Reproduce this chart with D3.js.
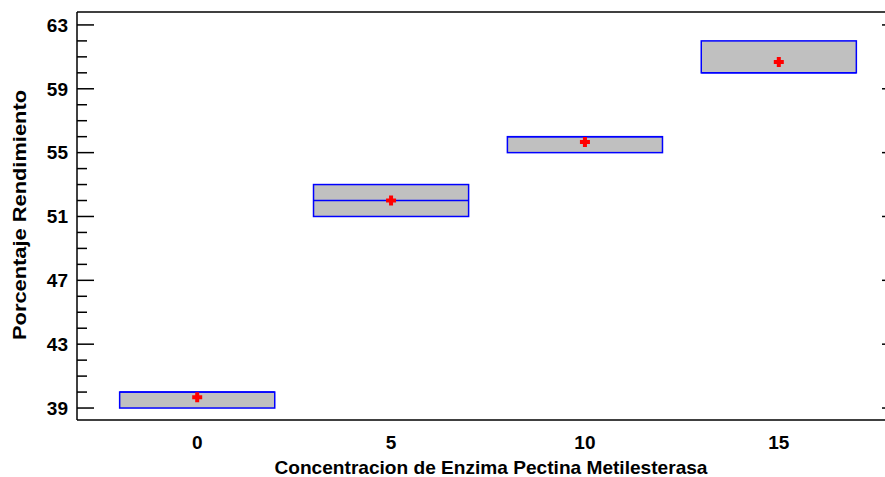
<!DOCTYPE html>
<html>
<head>
<meta charset="utf-8">
<script src="https://cdn.jsdelivr.net/npm/d3@7"></script>
<style>
  html, body { margin: 0; padding: 0; background: #fff; }
  svg { display: block; }
  text { font-family: "Liberation Sans", Arial, sans-serif; font-weight: bold; fill: #000; }
</style>
</head>
<body>
<svg id="chart" width="885" height="477"></svg>
<script>
// Data
const categories = [0, 5, 10, 15];
const q1Values     = [39, 51, 55, 60];
const medianValues = [40, 52, 56, 60];
const q3Values     = [40, 53, 56, 62];
const meanValues   = [39.67, 52, 55.67, 60.67];
const yTickLabels  = [39, 43, 47, 51, 55, 59, 63];
const xLabel = "Concentracion de Enzima Pectina Metilesterasa";
const yLabel = "Porcentaje Rendimiento";

const svg = d3.select("#chart");
const pLeft = 77, pRight = 899, pTop = 12, pBottom = 420;

const x = d3.scaleLinear().domain([-3.1, 18.1]).range([pLeft, pRight]);
const y = d3.scaleLinear().domain([38.25, 63.81]).range([pBottom, pTop]);

const minorTicks = d3.range(39, 64, 1);

// Left axis (ticks inward)
const gL = svg.append("g").attr("transform", `translate(${pLeft},0)`);
gL.selectAll("line").data(minorTicks).join("line")
  .attr("x1", 0).attr("x2", d => yTickLabels.includes(d) ? 17 : 10)
  .attr("y1", d => y(d)).attr("y2", d => y(d))
  .attr("stroke", "#000").attr("stroke-width", 1.5);
gL.selectAll("text").data(yTickLabels).join("text")
  .attr("x", -9).attr("y", d => y(d)).attr("dy", "0.36em")
  .attr("text-anchor", "end").attr("font-size", 19)
  .text(d => d);

// Right axis (ticks inward)
const gR = svg.append("g").attr("transform", `translate(${pRight},0)`);
gR.selectAll("line").data(minorTicks).join("line")
  .attr("x1", 0).attr("x2", d => yTickLabels.includes(d) ? -17 : -10)
  .attr("y1", d => y(d)).attr("y2", d => y(d))
  .attr("stroke", "#000").attr("stroke-width", 1.5);

// Frame
svg.append("line").attr("x1", pLeft).attr("x2", pRight).attr("y1", pTop).attr("y2", pTop)
  .attr("stroke", "#000").attr("stroke-width", 1.5);
svg.append("line").attr("x1", pLeft).attr("x2", pRight).attr("y1", pBottom).attr("y2", pBottom)
  .attr("stroke", "#000").attr("stroke-width", 1.5);
svg.append("line").attr("x1", pLeft).attr("x2", pLeft).attr("y1", pTop).attr("y2", pBottom)
  .attr("stroke", "#000").attr("stroke-width", 1.5);
svg.append("line").attr("x1", pRight).attr("x2", pRight).attr("y1", pTop).attr("y2", pBottom)
  .attr("stroke", "#000").attr("stroke-width", 1.5);

// X tick labels
svg.append("g").selectAll("text").data(categories).join("text")
  .attr("x", d => x(d)).attr("y", 442).attr("dy", "0.36em")
  .attr("text-anchor", "middle").attr("font-size", 19)
  .text(d => d);

// Boxes
const halfW = 2;
const boxes = svg.append("g");
categories.forEach((c, i) => {
  boxes.append("rect")
    .attr("x", x(c - halfW)).attr("width", x(c + halfW) - x(c - halfW))
    .attr("y", y(q3Values[i])).attr("height", y(q1Values[i]) - y(q3Values[i]))
    .attr("fill", "#c0c0c0").attr("stroke", "#0000ff").attr("stroke-width", 1.5);
  boxes.append("line")
    .attr("x1", x(c - halfW)).attr("x2", x(c + halfW))
    .attr("y1", y(medianValues[i])).attr("y2", y(medianValues[i]))
    .attr("stroke", "#0000ff").attr("stroke-width", 1.5);
});

// Mean markers (red plus)
const means = svg.append("g");
categories.forEach((c, i) => {
  const cx = x(c), cy = y(meanValues[i]);
  means.append("path")
    .attr("d", `M${cx - 5},${cy} H${cx + 5} M${cx},${cy - 5} V${cy + 5}`)
    .attr("stroke", "#ff0000").attr("stroke-width", 4).attr("fill", "none");
});

// Axis titles
svg.append("text").attr("x", 491).attr("y", 467).attr("dy", "0.36em")
  .attr("text-anchor", "middle").attr("font-size", 18.5)
  .attr("textLength", 433).attr("lengthAdjust", "spacingAndGlyphs")
  .text(xLabel);
svg.append("text").attr("transform", "translate(19,215) rotate(-90)")
  .attr("dy", "0.36em").attr("text-anchor", "middle").attr("font-size", 18.5)
  .attr("textLength", 250).attr("lengthAdjust", "spacingAndGlyphs")
  .text(yLabel);
</script>
</body>
</html>
